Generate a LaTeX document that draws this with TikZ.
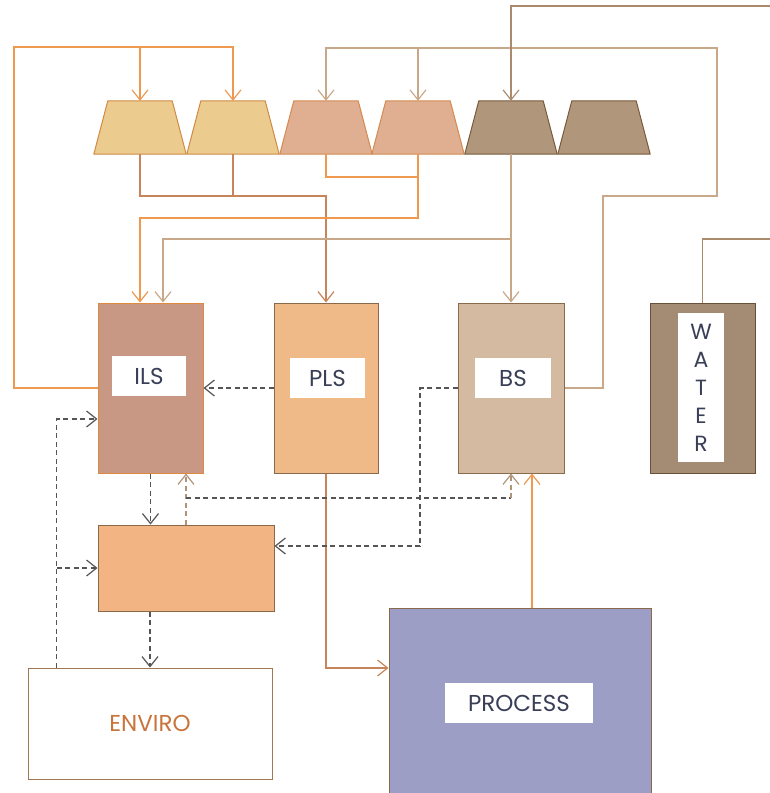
\documentclass[tikz,border=0pt]{standalone}
\usepackage{fontspec}
\setmainfont{Poppins}
\usetikzlibrary{arrows.meta,calc}
\definecolor{tAf}{HTML}{ECCB8E}\definecolor{tAd}{HTML}{D08A45}
\definecolor{tBf}{HTML}{E0AE90}\definecolor{tBd}{HTML}{D48A50}
\definecolor{tCf}{HTML}{B0967A}\definecolor{tCd}{HTML}{7A5A3A}
\definecolor{ilsf}{HTML}{C99884}\definecolor{ilsd}{HTML}{E08A40}
\definecolor{plsf}{HTML}{F0BA88}\definecolor{brd}{HTML}{8A6A4A}
\definecolor{bsf}{HTML}{D4BAA0}
\definecolor{watf}{HTML}{A48B73}\definecolor{watd}{HTML}{6A5038}
\definecolor{midf}{HTML}{F2B482}
\definecolor{procf}{HTML}{9C9EC6}
\definecolor{envd}{HTML}{A07850}\definecolor{envt}{HTML}{C8743A}
\definecolor{txt}{HTML}{3A3F58}
\definecolor{ocol}{HTML}{EE9850}\definecolor{pcol}{HTML}{C8845A}
\definecolor{tcol}{HTML}{C8A888}\definecolor{bcol}{HTML}{A98A6C}
\definecolor{dcol}{HTML}{555555}\definecolor{tdcol}{HTML}{B09478}
\newcommand{\mytrap}[4]{%
  \node[minimum width=92pt, minimum height=53pt, inner sep=0pt] (#1) at (#2,127.5) {};
  \filldraw[fill=#3, draw=#4, line width=1pt, line join=round]
    (#1.south west) -- (#1.south east) -- ($(#1.north east)+(-14,0)$)
    -- ($(#1.north west)+(14,0)$) -- cycle;}
\begin{document}
\begin{tikzpicture}[x=1pt,y=-1pt,
  box/.style={draw, line width=1pt, inner sep=0pt},
  lab/.style={fill=white, inner sep=0pt, text=txt, font=\fontsize{23}{26}\selectfont},
  arr/.style={-{Straight Barb[length=10pt,width=16pt,line width=1.2pt]}},
  oline/.style={draw=ocol, line width=1.4pt},
  pline/.style={draw=pcol, line width=1.4pt},
  tline/.style={draw=tcol, line width=1.4pt},
  bline/.style={draw=bcol, line width=1.4pt},
  dline/.style={draw=dcol, line width=1.4pt, dash pattern=on 5pt off 3.5pt},
  tdline/.style={draw=tdcol, line width=1.5pt, dash pattern=on 5pt off 3.5pt}]
\useasboundingbox (0,0) rectangle (770,793);
% trapezoids
\mytrap{T1}{140}{tAf}{tAd}
\mytrap{T2}{233}{tAf}{tAd}
\mytrap{T3}{326}{tBf}{tBd}
\mytrap{T4}{418}{tBf}{tBd}
\mytrap{T5}{511}{tCf}{tCd}
\mytrap{T6}{604}{tCf}{tCd}
% boxes
\node[box, fill=ilsf, draw=ilsd, minimum width=105pt, minimum height=170pt] (ILS) at (150.5,388) {};
\node[lab, minimum width=74pt, minimum height=40pt] (ILSl) at (149,376) {ILS};
\node[box, fill=plsf, draw=brd, minimum width=104pt, minimum height=170pt] (PLS) at (326,388) {};
\node[lab, minimum width=75pt, minimum height=40pt] (PLSl) at (327.5,378) {PLS};
\node[box, fill=bsf, draw=brd, minimum width=106pt, minimum height=170pt] (BS) at (511,388) {};
\node[lab, minimum width=76pt, minimum height=40pt] (BSl) at (513,378) {BS};
\node[box, fill=watf, draw=watd, minimum width=105pt, minimum height=170pt] (WAT) at (702.5,388) {};
\node[lab, minimum width=46pt, minimum height=149pt, align=center,
  font=\fontsize{22}{28}\selectfont] (WATl) at (701,387.5) {W\\A\\T\\E\\R};
\node[box, fill=midf, draw=brd, minimum width=176pt, minimum height=86pt] (MID) at (186,568) {};
\node[box, fill=white, draw=envd, minimum width=244pt, minimum height=111pt,
  text=envt, font=\fontsize{23}{26}\selectfont] (ENV) at (150,723.5) {ENVIRO};
\node[box, fill=procf, draw=brd, minimum width=262pt, minimum height=196pt] (PROC) at (520,706) {};
\node[lab, minimum width=148pt, minimum height=40pt] (PROCl) at (519,703) {PROCESS};
% free ends
\coordinate (inB) at (770,6);
\coordinate (inW) at (770,239);
% solid connectors
\draw[oline,arr] (ILS.west) -| (14,47) -| (T2.north);
\draw[oline,arr] (T1.north |- 0,47) -- (T1.north);
\draw[tline,arr] (BS.east) -| (603,196) -| (717,48) -| (T3.north);
\draw[tline,arr] (T4.north |- 0,48) -- (T4.north);
\draw[bline,arr] (inB) -| (T5.north);
\draw[pline,arr] (T1.south) -- (T1.south |- 0,196) -| (PLS.north);
\draw[pline] (T2.south) -- (T2.south |- 0,196);
\draw[oline] (T3.south) |- (T4.south |- 0,177);
\draw[oline,arr] (T4.south) |- (T1.south |- 0,218) -- (T1.south |- ILS.north);
\draw[tline,arr] (T5.south) -- (BS.north);
\coordinate (i2) at ($(ILS.north)+(12.5,0)$);
\draw[tline,arr] (T5.south |- 0,239) -| (i2);
\draw[bline] (WAT.north) |- (inW);
\draw[pline,arr] (PLS.south) |- (PROC.west |- 0,668);
\coordinate (p1) at ($(BS.south)+(21,0)$);
\draw[oline,arr] (p1 |- PROC.north) -- (p1);
% dashed connectors
\draw[dline,arr] (PLS.west) -- (ILS.east);
\coordinate (e1) at ($(ENV.north west)+(29,0)$);
\draw[dline,arr] (e1) |- (ILS.west |- 0,419);
\draw[dline,arr] (e1 |- MID.west) -- (MID.west);
\draw[dline,arr] (ILS.south) -- (ILS.south |- MID.north);
\draw[dline,arr] (ENV.north |- MID.south) -- (ENV.north);
\draw[tdline,arr] (MID.north) -- (MID.north |- ILS.south);
\draw[dline] (MID.north |- 0,498) -- (BS.south |- 0,498);
\draw[tdline,arr] (BS.south |- 0,498) -- (BS.south);
\draw[dline,arr] (BS.west) -| (420,546) -- (MID.east |- 0,546);
\end{tikzpicture}
\end{document}
